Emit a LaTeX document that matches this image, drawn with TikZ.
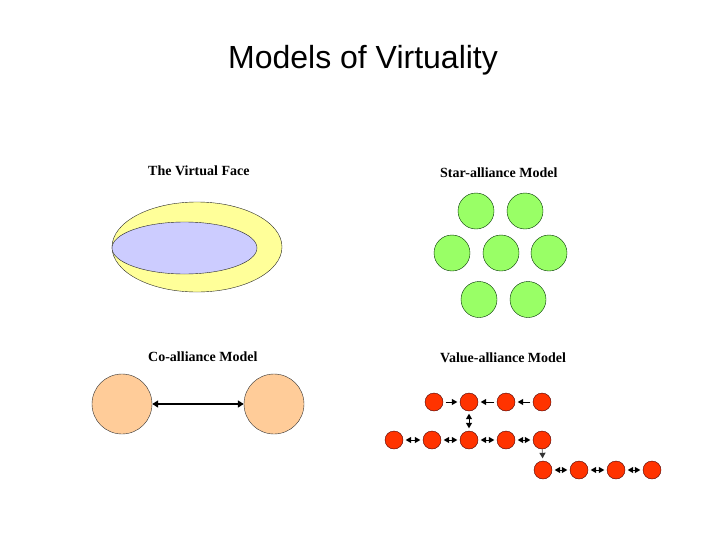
\documentclass[tikz,border=0pt]{standalone}
\usepackage{fontspec}
\setmainfont{Liberation Serif}
\newfontfamily\titlefont{Liberation Sans}
\usepackage{tikz}
\usetikzlibrary{arrows.meta}
\definecolor{faceyellow}{RGB}{255,255,153}
\definecolor{facelav}{RGB}{204,204,255}
\definecolor{stargreen}{RGB}{153,255,102}
\definecolor{coorange}{RGB}{255,204,153}
\definecolor{valred}{RGB}{255,51,0}

\begin{document}
\begin{tikzpicture}[x=1pt,y=-1pt,
  lbl/.style={anchor=base west,font=\fontsize{14}{16}\selectfont\bfseries,inner sep=0pt},
  star/.style={circle,draw=black!80!green,fill=stargreen,minimum size=36pt,inner sep=0pt},
  co/.style={circle,draw=black!80,fill=coorange,minimum size=60pt,inner sep=0pt},
  val/.style={circle,draw=black!70!red,fill=valred,minimum size=18pt,inner sep=0pt},
  varr/.style={line width=1pt,shorten >=2.5pt,shorten <=2.5pt,-{Triangle[length=5.5pt,width=6pt]}},
  vboth/.style={varr,{Triangle[length=5.5pt,width=6pt]}-{Triangle[length=5.5pt,width=6pt]}}]
  \useasboundingbox (0,0) rectangle (728,546);
  \node[anchor=base,font=\titlefont\fontsize{32}{38}\selectfont,inner sep=0pt] (title) at (363,68) {Models of Virtuality};

  % the virtual face
  \node[lbl] (facelbl) at (148,175) {The Virtual Face};
  \draw[fill=faceyellow,draw=black!85] (197,247) ellipse [x radius=85,y radius=45];
  \draw[fill=facelav,draw=black!85] (184.5,248) ellipse [x radius=72.5,y radius=26];

  % star-alliance model
  \node[lbl] (starlbl) at (440,177) {Star-alliance Model};
  \node[star] (s1) at (476,211) {};
  \node[star] (s2) at (525,211) {};
  \node[star] (s3) at (452,253) {};
  \node[star] (s4) at (501,253) {};
  \node[star] (s5) at (549,253) {};
  \node[star] (s6) at (479,299.5) {};
  \node[star] (s7) at (528,299.5) {};

  % co-alliance model
  \node[lbl] (colbl) at (148,361) {Co-alliance Model};
  \node[co] (c1) at (122,404) {};
  \node[co] (c2) at (274,404) {};
  \draw[line width=1.6pt,{Triangle[length=6pt,width=7pt]}-{Triangle[length=6pt,width=7pt]}] (c1) -- (c2);

  % value-alliance model
  \node[lbl] (vallbl) at (440,362) {Value-alliance Model};
  \foreach \x [count=\i] in {434,469,506,542}
    \node[val] (t\i) at (\x,402) {};
  \foreach \x [count=\i] in {394,432,469,506,542}
    \node[val] (m\i) at (\x,440) {};
  \foreach \x [count=\i] in {543,579,616,652}
    \node[val] (b\i) at (\x,470) {};
  \draw[varr] (t1) -- (t2);
  \draw[varr] (t3) -- (t2);
  \draw[varr] (t4) -- (t3);
  \draw[vboth] (t2) -- (m3);
  \foreach \i/\j in {1/2,2/3,3/4,4/5}
    \draw[vboth] (m\i) -- (m\j);
  \draw[varr,shorten <=0pt,draw=black!45,-{Triangle[length=5.5pt,width=6pt,color=black!80]}] (m5) -- (b1);
  \foreach \i/\j in {1/2,2/3,3/4}
    \draw[vboth] (b\i) -- (b\j);
\end{tikzpicture}
\end{document}
